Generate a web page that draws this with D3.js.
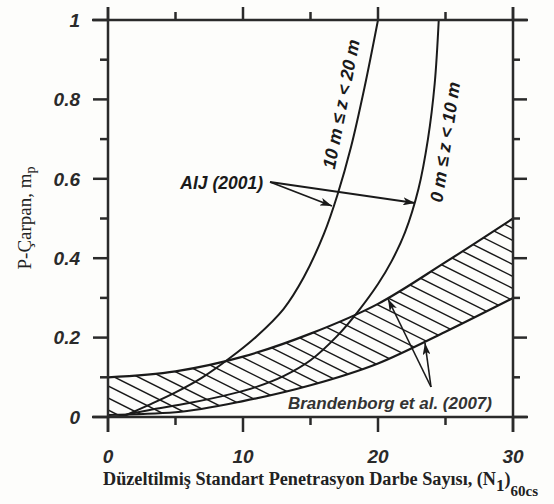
<!DOCTYPE html>
<html>
<head>
<meta charset="utf-8">
<script src="https://cdn.jsdelivr.net/npm/d3@7"></script>
<style>
  body { margin: 0; background: #fff; }
  svg { display: block; }
</style>
</head>
<body>
<svg id="chart"></svg>
<script>
// values: [N1_60cs, mp]
const aij10to20 = [[1, 0], [3, 0.03], [5, 0.062], [7, 0.1], [9, 0.148], [11, 0.203], [13, 0.272],
  [14.5, 0.352], [16, 0.462], [17, 0.56], [18, 0.68], [19, 0.83], [20, 1.0]];
const aij0to10 = [[0.5, 0], [3, 0.017], [6, 0.035], [9, 0.057], [11, 0.076], [13, 0.103], [15, 0.143],
  [17, 0.205], [18.5, 0.265], [20, 0.335], [21, 0.392], [22, 0.465], [23, 0.575], [23.7, 0.7], [24.2, 0.84], [24.5, 1.0]];
const brandUpper = [[0, 0.1], [5, 0.115], [10, 0.152], [15, 0.21], [20, 0.285], [25, 0.39], [30, 0.5]];
const brandLower = [[0, 0.005], [5, 0.012], [10, 0.04], [15, 0.08], [20, 0.135], [25, 0.215], [30, 0.3]];
const xMajor = [0, 10, 20, 30];
const xMinor = [5, 15, 25];
const yMajor = [0, 0.2, 0.4, 0.6, 0.8, 1];
const yMinor = [0.1, 0.3, 0.5, 0.7, 0.9];
const yLabels = ["0", "0.2", "0.4", "0.6", "0.8", "1"];

const width = 554, height = 504;
const svg = d3.select("#chart").attr("width", width).attr("height", height);
svg.append("rect").attr("width", width).attr("height", height).attr("fill", "#fdfdfb");

const x = d3.scaleLinear().domain([0, 30]).range([108, 513]);
const y = d3.scaleLinear().domain([0, 1]).range([417, 20]);
const ink = "#1a1a1a";

const line = d3.line().x(d => x(d[0])).y(d => y(d[1])).curve(d3.curveMonotoneX);

// hatched band (Brandenborg et al.)
const band = d3.area()
  .x(d => x(d[0]))
  .y0((d, i) => y(brandLower[i][1]))
  .y1(d => y(d[1]))
  .curve(d3.curveMonotoneX);

const defs = svg.append("defs");
defs.append("clipPath").attr("id", "bandClip")
  .append("path").attr("d", band(brandUpper));

defs.append("marker")
  .attr("id", "arrow")
  .attr("viewBox", "0 0 12 8")
  .attr("refX", 12).attr("refY", 4)
  .attr("markerWidth", 12).attr("markerHeight", 8)
  .attr("markerUnits", "userSpaceOnUse")
  .attr("orient", "auto")
  .append("path")
  .attr("d", "M0,0 L12,4 L0,8 L3,4 Z")
  .attr("fill", ink);

const hatch = svg.append("g").attr("clip-path", "url(#bandClip)");
const x0 = x(0), x1 = x(30);
for (let c = -480; c < 60; c += 12) {
  hatch.append("line")
    .attr("x1", x0).attr("y1", 386 + c)
    .attr("x2", x1).attr("y2", 386 + c + 0.5 * (x1 - x0))
    .attr("stroke", ink).attr("stroke-width", 1.5);
}

svg.append("path").attr("d", line(brandUpper))
  .attr("fill", "none").attr("stroke", ink).attr("stroke-width", 2.2);
svg.append("path").attr("d", line(brandLower))
  .attr("fill", "none").attr("stroke", ink).attr("stroke-width", 2.2);

// AIJ (2001) curves
const smooth = d3.line().x(d => x(d[0])).y(d => y(d[1])).curve(d3.curveCatmullRom.alpha(0.5));
[aij10to20, aij0to10].forEach(s => {
  svg.append("path").attr("d", smooth(s))
    .attr("fill", "none").attr("stroke", ink).attr("stroke-width", 2);
});

// frame with outward ticks
const frame = svg.append("g").attr("stroke", "#2a2a2a").attr("stroke-width", 2.5);
frame.append("line").attr("x1", 92).attr("x2", 528).attr("y1", y(0)).attr("y2", y(0));
frame.append("line").attr("x1", 92).attr("x2", 528).attr("y1", y(1)).attr("y2", y(1));
frame.append("line").attr("x1", x(0)).attr("x2", x(0)).attr("y1", 7).attr("y2", 432);
frame.append("line").attr("x1", x(30)).attr("x2", x(30)).attr("y1", 7).attr("y2", 432);

xMajor.forEach(v => {
  frame.append("line").attr("x1", x(v)).attr("x2", x(v)).attr("y1", y(0)).attr("y2", 432);
  frame.append("line").attr("x1", x(v)).attr("x2", x(v)).attr("y1", y(1)).attr("y2", 7);
});
xMinor.forEach(v => {
  frame.append("line").attr("x1", x(v)).attr("x2", x(v)).attr("y1", y(0)).attr("y2", 425);
  frame.append("line").attr("x1", x(v)).attr("x2", x(v)).attr("y1", y(1)).attr("y2", 12);
});
yMajor.forEach(v => {
  frame.append("line").attr("x1", x(0)).attr("x2", 93).attr("y1", y(v)).attr("y2", y(v));
  frame.append("line").attr("x1", x(30)).attr("x2", 527).attr("y1", y(v)).attr("y2", y(v));
});
yMinor.forEach(v => {
  frame.append("line").attr("x1", x(0)).attr("x2", 100).attr("y1", y(v)).attr("y2", y(v));
  frame.append("line").attr("x1", x(30)).attr("x2", 520).attr("y1", y(v)).attr("y2", y(v));
});

// tick labels
const tickFont = "'Liberation Sans', Arial, sans-serif";
svg.selectAll(".ylab").data(yMajor).enter().append("text")
  .attr("x", 80).attr("y", d => y(d)).attr("dy", "0.36em")
  .attr("text-anchor", "end")
  .style("font-family", tickFont).style("font-size", "19px")
  .style("font-weight", "bold").style("font-style", "italic")
  .attr("fill", "#2a2a2a")
  .text((d, i) => yLabels[i]);
svg.selectAll(".xlab").data(xMajor).enter().append("text")
  .attr("x", d => x(d)).attr("y", 463)
  .attr("text-anchor", "middle")
  .style("font-family", tickFont).style("font-size", "19px")
  .style("font-weight", "bold").style("font-style", "italic")
  .attr("fill", "#2a2a2a")
  .text(d => d);

// axis titles
const serif = "'Liberation Serif', 'DejaVu Serif', serif";
const xt = svg.append("text")
  .attr("x", 103).attr("y", 485)
  .style("font-family", serif).style("font-size", "18px").style("font-weight", "bold")
  .attr("fill", "#222");
xt.append("tspan").attr("textLength", 393).attr("lengthAdjust", "spacingAndGlyphs")
  .text("Düzeltilmiş Standart Penetrasyon Darbe Sayısı, (N");
xt.append("tspan").attr("dy", 6).style("font-size", "17px").text("1");
xt.append("tspan").attr("dy", -6).text(")");
xt.append("tspan").attr("dy", 11).style("font-size", "15px").text("60cs");

const yt = svg.append("text")
  .attr("transform", "translate(31,218) rotate(-90)")
  .attr("text-anchor", "middle")
  .style("font-family", serif).style("font-size", "19px")
  .attr("fill", "#222");
yt.append("tspan").text("P-Çarpan, m");
yt.append("tspan").attr("dy", 4).style("font-size", "14px").text("p");

// annotations
const annFont = "'Liberation Sans', Arial, sans-serif";
svg.append("text")
  .attr("x", 263).attr("y", 189).attr("text-anchor", "end")
  .style("font-family", annFont).style("font-size", "17.5px")
  .style("font-weight", "bold").style("font-style", "italic")
  .attr("fill", ink)
  .text("AIJ (2001)");
svg.append("line").attr("x1", 270).attr("y1", 182).attr("x2", 332).attr("y2", 206)
  .attr("stroke", ink).attr("stroke-width", 1.8).attr("marker-end", "url(#arrow)");
svg.append("line").attr("x1", 270).attr("y1", 182).attr("x2", 415).attr("y2", 203)
  .attr("stroke", ink).attr("stroke-width", 1.8).attr("marker-end", "url(#arrow)");

svg.append("text")
  .attr("transform", "translate(341,104) rotate(-79)")
  .attr("text-anchor", "middle").attr("dy", "0.35em")
  .style("font-family", annFont).style("font-size", "18px")
  .style("font-weight", "bold").style("font-style", "italic")
  .attr("fill", ink)
  .text("10 m ≤ z < 20 m");
svg.append("text")
  .attr("transform", "translate(445,142) rotate(-81.5)")
  .attr("text-anchor", "middle").attr("dy", "0.35em")
  .style("font-family", annFont).style("font-size", "18px")
  .style("font-weight", "bold").style("font-style", "italic")
  .attr("fill", ink)
  .text("0 m ≤ z < 10 m");

svg.append("text")
  .attr("x", 492).attr("y", 409).attr("text-anchor", "end")
  .style("font-family", annFont).style("font-size", "17px")
  .style("font-weight", "bold").style("font-style", "italic")
  .attr("fill", "#333")
  .text("Brandenborg et al. (2007)");
svg.append("line").attr("x1", 431).attr("y1", 387).attr("x2", 388).attr("y2", 299)
  .attr("stroke", ink).attr("stroke-width", 1.6).attr("marker-end", "url(#arrow)");
svg.append("line").attr("x1", 431).attr("y1", 387).attr("x2", 425).attr("y2", 343)
  .attr("stroke", ink).attr("stroke-width", 1.6).attr("marker-end", "url(#arrow)");
</script>
</body>
</html>
